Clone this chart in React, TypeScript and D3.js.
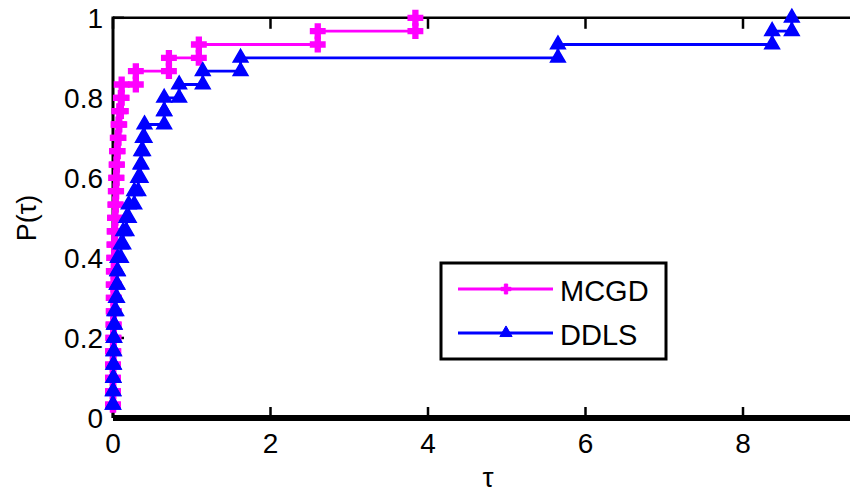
import * as d3 from 'd3';

const W = 850;
const H = 493;

// sorted performance ratios (tau) per problem, 30 problems each
const mcgdTau = [
  0, 0, 0, 0, 0, 0.005, 0.005, 0.01, 0.01, 0.01,
  0.01, 0.015, 0.02, 0.02, 0.025, 0.03, 0.035, 0.04, 0.045, 0.05,
  0.06, 0.07, 0.08, 0.1, 0.11, 0.29, 0.71, 1.09, 2.6, 3.84,
];
const ddlsTau = [
  0, 0, 0.005, 0.005, 0.01, 0.01, 0.015, 0.02, 0.04, 0.05,
  0.055, 0.06, 0.1, 0.13, 0.17, 0.2, 0.27, 0.32, 0.35, 0.36,
  0.38, 0.4, 0.65, 0.65, 0.84, 1.14, 1.62, 5.65, 8.37, 8.62,
];
const xTicks = [0, 2, 4, 6, 8];
const yTicks = [0, 0.2, 0.4, 0.6, 0.8, 1];
const seriesNames = ['MCGD', 'DDLS'];
const seriesColors = ['#ff00ff', '#0000ff'];

const margin = { left: 113, top: 17.8, bottom: 418 };
const x = d3.scaleLinear().domain([0, 9.4]).range([margin.left, margin.left + 9.4 * 78.75]);
const y = d3.scaleLinear().domain([0, 1]).range([margin.bottom, margin.top]);

const stairs = (tau: number[]) => {
  const n = tau.length;
  const pts: [number, number][] = [[tau[0], 1 / n]];
  for (let i = 1; i < n; i++) {
    pts.push([tau[i], i / n]);
    pts.push([tau[i], (i + 1) / n]);
  }
  return pts;
};

const line = d3.line<[number, number]>().x((d) => x(d[0])).y((d) => y(d[1]));
const crossPath = d3.symbol().type(d3.symbolCross).size(115)();
const triPath = d3.symbol().type(d3.symbolTriangle).size(95)();
const crossSmall = d3.symbol().type(d3.symbolCross).size(55)();
const triSmall = d3.symbol().type(d3.symbolTriangle).size(65)();

const font = 'Liberation Sans, Arial, sans-serif';

const Series = ({ tau, color, marker }: { tau: number[]; color: string; marker: string }) => {
  const pts = stairs(tau);
  return (
    <g>
      <path d={line(pts) || ''} fill="none" stroke={color} strokeWidth={2.8} />
      {pts.map((p, i) => (
        <path
          key={i}
          d={marker}
          transform={`translate(${x(p[0])},${y(p[1])})`}
          fill={color}
          stroke={color}
          strokeWidth={1.5}
        />
      ))}
    </g>
  );
};

export default function App() {
  const x0 = x.range()[0];
  const x1 = x.range()[1];
  return (
    <svg width={W} height={H} style={{ position: 'absolute', left: 0, top: 0, background: '#fff' }}>
      <rect width={W} height={H} fill="#fff" />
      {/* axes box */}
      <line x1={x0} x2={x1} y1={y(1)} y2={y(1)} stroke="#000" strokeWidth={2.6} />
      <line x1={x0} x2={x0} y1={y(1) - 1.3} y2={y(0)} stroke="#000" strokeWidth={3} />
      {xTicks.map((t) => (
        <g key={t}>
          <line x1={x(t)} x2={x(t)} y1={y(1)} y2={y(1) + 11} stroke="#000" strokeWidth={2.5} />
          <line x1={x(t)} x2={x(t)} y1={y(0)} y2={y(0) - 11} stroke="#000" strokeWidth={2.5} />
          <text x={x(t)} y={y(0) + 35} textAnchor="middle" fontFamily={font} fontSize={28}>
            {t}
          </text>
        </g>
      ))}
      {yTicks.map((t) => (
        <g key={t}>
          <line x1={x0} x2={x0 + 11} y1={y(t)} y2={y(t)} stroke="#000" strokeWidth={2.5} />
          <text x={103} y={y(t) + 10} textAnchor="end" fontFamily={font} fontSize={28}>
            {String(t)}
          </text>
        </g>
      ))}
      <Series tau={mcgdTau} color={seriesColors[0]} marker={crossPath} />
      <Series tau={ddlsTau} color={seriesColors[1]} marker={triPath} />
      <line x1={x0} x2={x1} y1={y(0)} y2={y(0)} stroke="#000" strokeWidth={6} />
      <text x={488} y={487} textAnchor="middle" fontFamily={font} fontSize={28}>
        τ
      </text>
      <text
        transform="translate(36,218) rotate(-90)"
        textAnchor="middle"
        fontFamily={font}
        fontSize={27}
      >
        P(τ)
      </text>
      {/* legend */}
      <rect x={441} y={263} width={225} height={96} fill="#fff" stroke="#000" strokeWidth={3} />
      {seriesNames.map((name, i) => {
        const ly = 289 + i * 44;
        return (
          <g key={name}>
            <line x1={458} x2={553} y1={ly} y2={ly} stroke={seriesColors[i]} strokeWidth={2.8} />
            <path
              d={i === 0 ? crossSmall : triSmall}
              transform={`translate(506,${ly})`}
              fill={seriesColors[i]}
              stroke={seriesColors[i]}
              strokeWidth={1}
            />
            <text x={560} y={ly + 12} fontFamily={font} fontSize={29}>
              {name}
            </text>
          </g>
        );
      })}
    </svg>
  );
}
